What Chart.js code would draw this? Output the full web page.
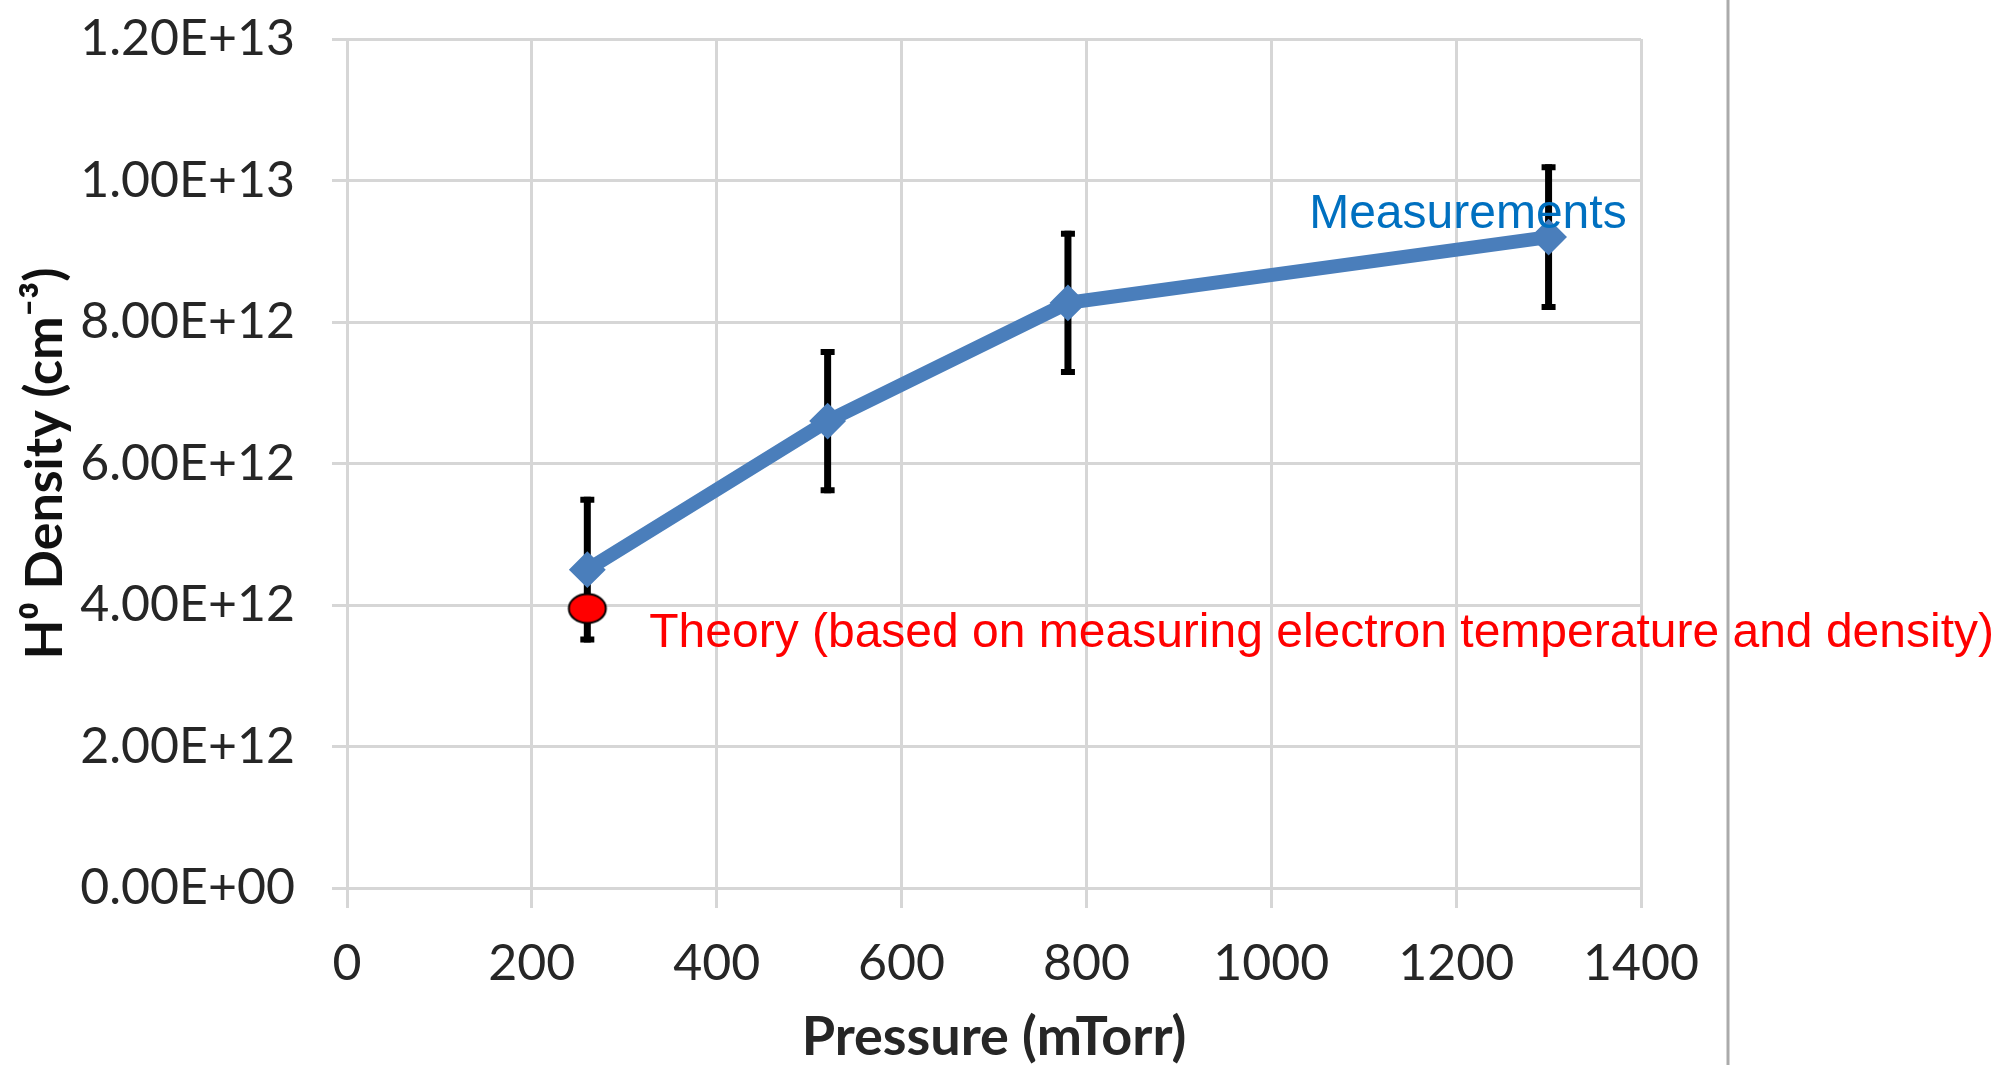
<!DOCTYPE html>
<html>
<head>
<meta charset="utf-8">
<script src="https://cdn.jsdelivr.net/npm/chart.js@4.4.1/dist/chart.umd.min.js"></script>
<style>
  html, body { margin: 0; padding: 0; background: #fff; }
  #wrap { width: 1996px; height: 1065px; }
</style>
</head>
<body>
<div id="wrap"><canvas id="chart" width="1996" height="1065"></canvas></div>
<script>
// Dados (pressão em mTorr, densidade em cm^-3)
const pressure     = [260, 520, 780, 1300];
const density      = [4.5e12, 6.6e12, 8.27e12, 9.2e12];
const densityErr   = [1.03e12, 1.02e12, 1.02e12, 1.03e12];
const theoryP      = [260];
const theoryD      = [3.95e12];

const xMin = 0, xMax = 1400, xStep = 200;
const yMin = 0, yMax = 1.2e13, yStep = 2e12;

// rótulos de texto ancorados em coordenadas de dados
const labelMeas   = { text: 'Measurements', x: 1041, y: 9.33e12, color: '#0070C0' };
const labelTheory = { text: 'Theory (based on measuring electron temperature and density)', x: 327, y: 3.41e12, color: '#FF0000' };

const BLUE = '#4A7EBB';
const GRID = '#d6d6d6';

// formato estilo Excel: 1.20E+13, 0.00E+00
function sci(v) {
  const [m, e] = v.toExponential(2).split('e');
  const n = parseInt(e, 10);
  return m + 'E' + (n < 0 ? '-' : '+') + String(Math.abs(n)).padStart(2, '0');
}

// marcador elíptico vermelho (teoria)
function ellipseMarker() {
  const c = document.createElement('canvas');
  c.width = 42; c.height = 34;
  const g = c.getContext('2d');
  g.beginPath();
  g.ellipse(21, 17, 18.5, 14.5, 0, 0, Math.PI * 2);
  g.fillStyle = '#FF0000';
  g.fill();
  g.lineWidth = 2;
  g.strokeStyle = '#000';
  g.stroke();
  return c;
}

// barras de erro, desenhadas por baixo da linha
const errorBars = {
  id: 'errorBars',
  beforeDatasetsDraw(chart) {
    const { ctx, scales: { x, y } } = chart;
    ctx.save();
    ctx.strokeStyle = '#000';
    ctx.lineWidth = 7;
    ctx.lineCap = 'butt';
    pressure.forEach((p, i) => {
      const px  = x.getPixelForValue(p);
      const top = y.getPixelForValue(density[i] + densityErr[i]);
      const bot = y.getPixelForValue(density[i] - densityErr[i]);
      ctx.beginPath();
      ctx.moveTo(px, top); ctx.lineTo(px, bot);
      ctx.stroke();
      ctx.lineWidth = 6;
      ctx.beginPath();
      ctx.moveTo(px - 7, top + 3); ctx.lineTo(px + 7, top + 3);
      ctx.moveTo(px - 7, bot - 3); ctx.lineTo(px + 7, bot - 3);
      ctx.stroke();
      ctx.lineWidth = 7;
    });
    ctx.restore();
  }
};

// linha separadora à direita + textos
const overlay = {
  id: 'overlay',
  afterDraw(chart) {
    const { ctx, scales: { x, y } } = chart;
    ctx.save();
    ctx.strokeStyle = '#ababab';
    ctx.lineWidth = 3;
    ctx.beginPath();
    ctx.moveTo(1728, 0); ctx.lineTo(1728, chart.height);
    ctx.stroke();

    ctx.font = '48px "Liberation Sans", Arial, sans-serif';
    ctx.textAlign = 'left';
    ctx.textBaseline = 'alphabetic';
    [labelMeas, labelTheory].forEach(l => {
      ctx.fillStyle = l.color;
      ctx.fillText(l.text, x.getPixelForValue(l.x), y.getPixelForValue(l.y));
    });
    ctx.restore();
  }
};

new Chart(document.getElementById('chart'), {
  type: 'scatter',
  data: {
    datasets: [
      {
        label: 'Measurements',
        data: pressure.map((p, i) => ({ x: p, y: density[i] })),
        showLine: true,
        borderColor: BLUE,
        borderWidth: 14,
        backgroundColor: BLUE,
        pointStyle: 'rectRot',
        pointRadius: 17,
        pointBorderWidth: 2,
        pointBorderColor: BLUE,
        pointBackgroundColor: BLUE,
        order: 2
      },
      {
        label: 'Theory',
        data: theoryP.map((p, i) => ({ x: p, y: theoryD[i] })),
        showLine: false,
        pointStyle: ellipseMarker(),
        order: 1
      }
    ]
  },
  options: {
    responsive: false,
    animation: false,
    layout: { padding: { left: 0, right: 355, top: 39, bottom: 0 } },
    plugins: { legend: { display: false }, tooltip: { enabled: false } },
    scales: {
      x: {
        type: 'linear',
        min: xMin, max: xMax,
        afterFit: s => { s.height = 177; },
        ticks: {
          stepSize: xStep,
          color: '#262626',
          font: { family: 'Lato', size: 50, lineHeight: 1 },
          padding: 31,
          callback: v => String(v)
        },
        grid: { color: GRID, lineWidth: 3, tickLength: 20, tickColor: GRID },
        border: { color: GRID, width: 3 },
        title: {
          display: true,
          text: 'Pressure (mTorr)',
          color: '#262626',
          font: { family: 'Lato', size: 54, weight: 'bold', lineHeight: 1 },
          padding: { top: 0, bottom: 0 }
        }
      },
      y: {
        type: 'linear',
        min: yMin, max: yMax,
        // largura fixa e sem folga extra em cima (o padding dos ticks empurrava a área)
        afterFit: s => { s.width = 347; s.paddingTop = 0; s.paddingBottom = 0; },
        ticks: {
          stepSize: yStep,
          color: '#262626',
          font: { family: 'Lato', size: 50, lineHeight: 1 },
          padding: 37,
          callback: v => sci(v)
        },
        grid: { color: GRID, lineWidth: 3, tickLength: 15, tickColor: GRID },
        border: { color: GRID, width: 3 },
        title: {
          display: true,
          text: 'H\u2070 Density (cm\u207B\u00B3)',
          color: '#111',
          font: { family: 'Lato', size: 52, weight: 'bold', lineHeight: 1 },
          padding: { top: 19, bottom: 0 }
        }
      }
    }
  },
  plugins: [errorBars, overlay]
});
</script>
</body>
</html>
